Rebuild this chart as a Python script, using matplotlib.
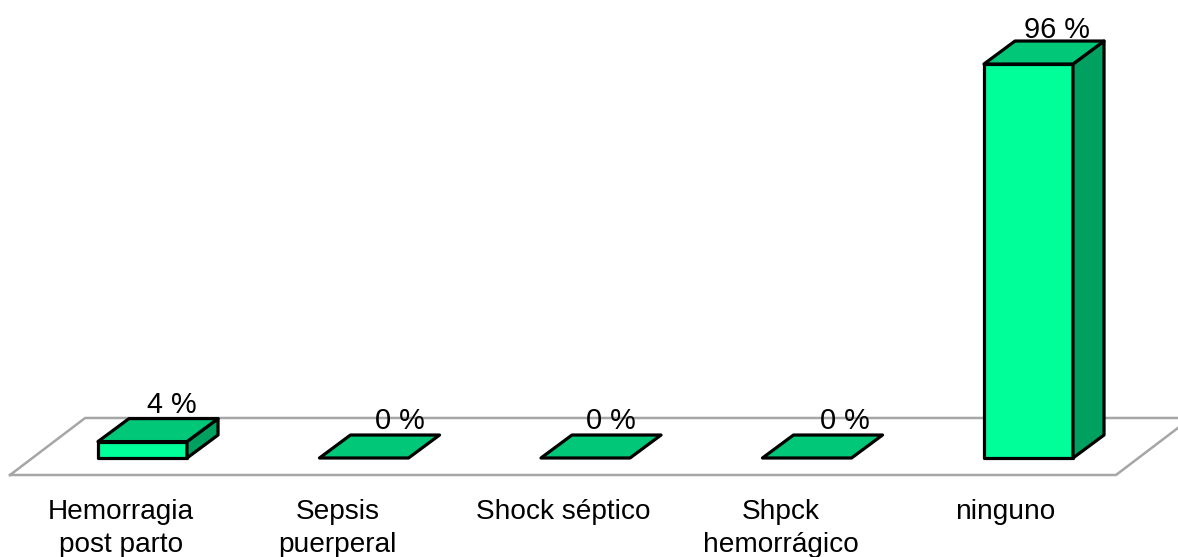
import matplotlib
matplotlib.use("Agg")
import matplotlib.pyplot as plt

plt.rcParams['font.family'] = ['Liberation Sans', 'DejaVu Sans']

# data
categorias = ["Hemorragia\npost parto", "Sepsis\npuerperal", "Shock séptico", "Shpck\nhemorrágico", "ninguno"]
valores = [4, 0, 0, 0, 96]
etiquetas = ["4 %", "0 %", "0 %", "0 %", "96 %"]

# 3d look
fondo_x = 0.14
fondo_y = 5.6
frente = "#00FF99"
arriba = "#00C878"
lado = "#00A060"
borde = "black"
gris = "#A6A6A6"

fig = plt.figure(figsize=(11.78, 5.57), dpi=100)
ax = fig.add_axes([0, 0, 1, 1])
ax.set_xlim(-142.5 / 221.5, (1178 - 142.5) / 221.5)
ax.set_ylim((458 - 557) / 4.104, 458 / 4.104)
ax.axis("off")

# floor
piso_x0 = -0.598
piso_x1 = 4.395
piso_y0 = -4.14
piso_y1 = 9.75
piso_dx = 0.339
ax.plot([piso_x0, piso_x1, piso_x1 + piso_dx, piso_x0 + piso_dx, piso_x0],
        [piso_y0, piso_y0, piso_y1, piso_y1, piso_y0],
        color=gris, lw=1.8, zorder=1)

# bars
for i in range(len(valores)):
    v = valores[i]
    x0 = i - 0.201
    x1 = i + 0.201
    if v > 0:
        ax.fill([x0, x1, x1, x0], [0, 0, v, v], facecolor=frente, edgecolor=borde, lw=2.3, zorder=3, joinstyle="round")
        ax.fill([x1, x1 + fondo_x, x1 + fondo_x, x1], [0, fondo_y, v + fondo_y, v],
                facecolor=lado, edgecolor=borde, lw=2.3, zorder=3, joinstyle="round")
    ax.fill([x0, x1, x1 + fondo_x, x0 + fondo_x], [v, v, v + fondo_y, v + fondo_y],
            facecolor=arriba, edgecolor=borde, lw=2.3, zorder=4, joinstyle="round")

# value labels
etiqueta_dx = [0.133, 0.16, 0.113, 0.17, 0.129]
etiqueta_dy = [8.9, 8.9, 8.9, 8.9, 8.4]
for i in range(len(valores)):
    ax.text(i + etiqueta_dx[i], valores[i] + etiqueta_dy[i], etiquetas[i], ha="center", va="center",
            fontsize=20.8, color="black", zorder=5)

# category labels
cat_dx = [-0.097, -0.118, -0.10, -0.12, -0.105]
for i in range(len(categorias)):
    ax.text(i + cat_dx[i], -9.9, categorias[i], ha="center", va="top", fontsize=20.2,
            linespacing=1.36, color="black")

fig.savefig("out.png", dpi=100)
